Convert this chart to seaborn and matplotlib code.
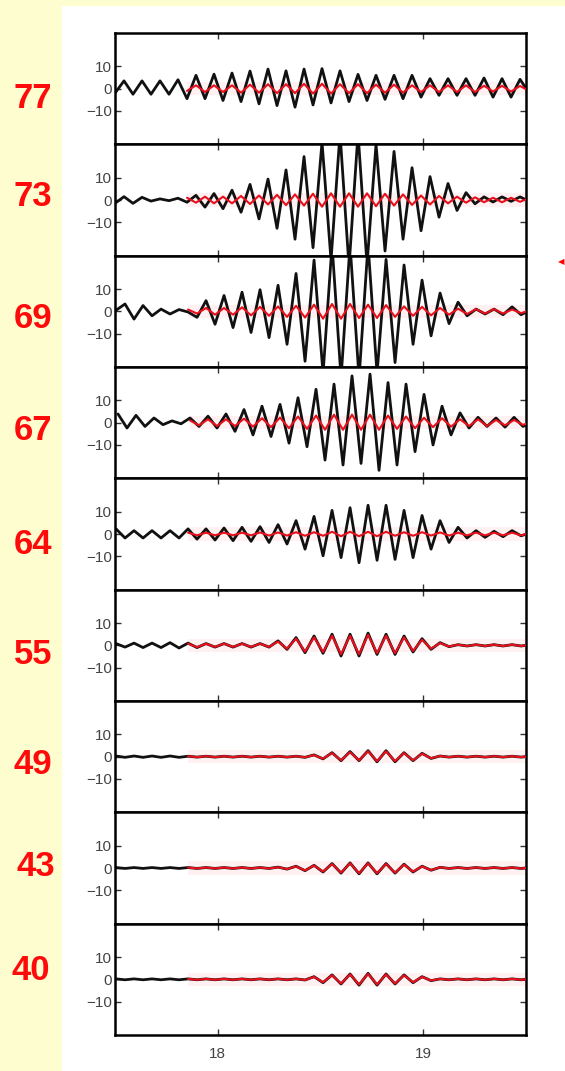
import numpy as np
import matplotlib
matplotlib.use("Agg")
import matplotlib.pyplot as plt
from matplotlib.patches import Rectangle
import seaborn as sns

# ---------------- data ----------------
LABELS = ['77', '73', '69', '67', '64', '55', '49', '43', '40']
# time of first extremum of each trace and the half period of the oscillation
START = {'77': 17.5, '73': 17.5, '69': 17.505, '67': 17.5146, '64': 17.505,
         '55': 17.505, '49': 17.505, '43': 17.505, '40': 17.505}
HALF_PERIOD = 0.0438
RED_FIRST = 8          # red trace starts at the 9th extremum

# successive extrema (peaks / troughs) of the black trace
BLACK = {
    '77': [-2, 3.5, -2.5, 3.5, -2.5, 3.5, -2.5, 4, -4.5, 6, -4.5, 6.5, -5.3, 7, -5.8, 7.9,
           -6.8, 8.8, -7.6, 8, -8.3, 8.8, -7.3, 9, -6.4, 8, -5.8, 6.4, -5.3, 6, -4.8, 6,
           -4.5, 6, -3.8, 4.5, -3, 4.5, -3, 4.5, -3, 4.8, -3.8, 4.5, -3.8, 4.2, -2],
    '73': [-1.5, 1.5, -1.5, 1.2, -0.5, 0.5, -0.3, 0.8, -1.0, 2.1, -3.2, 2.9, -3.9, 4.4, -5.5, 7,
           -8.5, 9.4, -12.7, 13.5, -17.6, 19.5, -21.4, 26, -27, 30, -30, 30, -29, 25, -22.9, 21.8,
           -17.6, 14.5, -13.8, 10.5, -7.7, 7.4, -4.7, 3.3, -1.7, 1.4, -0.9, 1.4, -0.6, 1.4, -0.6],
    '69': [0.5, 3.3, -3.5, 2.6, -2, 1, -1.2, 0.8, -0.3, -2.7, 4.8, -5.8, 7.1, -7.3, 8.6, -9.5,
           9.7, -11.8, 11.7, -14.8, 17, -22.4, 23, -28, 30, -30, 30, -30, 30, -28, 23.3, -23,
           20.8, -14.8, 14, -11, 8.2, -5.5, 4.1, -2, 1, -1.2, 1, -1.5, 2, -1.5, 0.5],
    '67': [3.9, -2.4, 3.3, -1.7, 2.1, -0.9, 0.8, -0.5, 2.1, -1.7, 2.9, -2.4, 3.9, -3.9, 5.9, -5.5,
           7.4, -6.2, 8.2, -9.2, 11.2, -10.8, 15, -16.8, 17.3, -19, 21, -18.3, 21.8, -21.4, 18, -19,
           17.3, -13, 12.7, -10, 7.4, -5.5, 4.4, -2.4, 2.4, -1.7, 2.1, -2, 2.4, -1.7, 0.5],
    '64': [2.3, -1.8, 1.5, -1.8, 1.5, -1.8, 1.5, -1.8, 2.3, -2.3, 2.3, -2.7, 2.7, -3, 3, -3.3,
           3.3, -3.8, 4.2, -4.5, 6, -6.8, 7.9, -9.8, 10.6, -10.6, 11.8, -12.9, 12.9, -11.8, 12.9, -11.4,
           10.6, -10.6, 8.3, -6.8, 6, -3.8, 3, -1.8, 1.5, -1.5, 1.2, -1.2, 1.5, -0.8, 0.5],
    '55': [0.8, -0.8, 1, -1, 1, -1, 1.2, -1.2, 1, -1, 0.8, -0.8, 0.8, -0.8, 0.8, -0.8,
           0.8, -0.8, 2, -1.8, 3.5, -3.3, 4.2, -3.6, 5, -4.8, 5, -4.8, 5.5, -4.1, 5, -4.1,
           4.2, -3, 3, -1.8, 1.2, -0.6, 0.3, -0.3, 0.3, -0.3, 0.3, -0.3, 0.3, -0.3, 0.3],
    '49': [0.3, -0.3, 0.3, -0.3, 0.3, -0.3, 0.3, -0.3, 0.2, -0.2, 0.2, -0.2, 0.2, -0.2, 0.2, -0.2,
           0.2, -0.2, 0.2, -0.2, 0.2, -0.3, 0.8, -1, 1.8, -1.8, 2.3, -1.8, 2.7, -2.3, 2.7, -2.3,
           1.8, -1.8, 1.5, -0.8, 0.3, -0.2, 0.2, -0.2, 0.2, -0.2, 0.2, -0.2, 0.2, -0.2, 0.2],
    '43': [0.2, -0.2, 0.2, -0.2, 0.2, -0.2, 0.2, -0.2, 0.2, -0.2, 0.2, -0.2, 0.2, -0.2, 0.2, -0.2,
           0.2, -0.2, 0.4, -0.5, 0.8, -1.2, 1.2, -1.8, 2, -2.3, 2.3, -2.6, 2.3, -2.6, 2, -2.3,
           1.7, -1.8, 0.8, -1.0, 0.3, -0.2, 0.2, -0.2, 0.2, -0.2, 0.2, -0.2, 0.2, -0.2, 0.2],
    '40': [0.2, -0.2, 0.2, -0.2, 0.2, -0.2, 0.2, -0.2, 0.2, -0.2, 0.2, -0.2, 0.2, -0.2, 0.2, -0.2,
           0.2, -0.2, 0.2, -0.2, 0.2, -0.3, 1.2, -1.5, 2, -2.1, 2.4, -2.6, 2.7, -2.6, 2.4, -2.1,
           2, -1.5, 1.2, -0.6, 0.2, -0.2, 0.2, -0.2, 0.2, -0.2, 0.2, -0.2, 0.2, -0.2, 0.2],
}

# successive extrema of the red trace (from RED_FIRST on)
RED = {
    '77': [-1.0, 1.5, -1.5, 1.5, -1.5, 1.5, -1.8, 1.8, -1.8, 2, -2, 2, -2, 2.2, -2.2, 2.2,
           -2.2, 2, -2, 2, -2, 1.8, -1.8, 1.8, -1.8, 1.5, -1.5, 1.5, -1.5, 1.5, -1.5, 1.5,
           -1.5, 1.3, -1.3, 1.3, -1.3, 1.2, -1.0],
    '73': [1.0, -1.2, 1.5, -1.5, 1.5, -1.5, 1.8, -1.8, 2, -2, 2.3, -2.3, 2.5, -2.5, 2.8, -3,
           3, -3, 3, -3, 3, -2.8, 2.8, -2.5, 2.5, -2.2, 2, -2, 1.8, -1.5, 1.5, -1.2,
           1.2, -1, 1, -1, 1, -0.8, 0.8],
    '69': [0.8, -1.0, 1.5, -1.5, 1.5, -1.5, 1.8, -1.8, 2, -2, 2.2, -2.5, 2.5, -2.8, 3, -3.3,
           3.3, -3.3, 3.3, -3, 3, -3, 2.8, -2.5, 2.2, -2, 2, -1.8, 1.5, -1.5, 1.2, -1.2,
           1, -1, 1, -1, 0.8, -0.8, 0.5],
    '67': [1.0, -1.2, 1.5, -1.5, 1.5, -1.5, 1.8, -1.8, 2, -2, 2.3, -2.5, 2.8, -2.8, 3.2, -3.2,
           3.6, -3.2, 3.6, -3.2, 3.6, -3.2, 3.2, -2.8, 2.8, -2.5, 2.2, -2, 2, -1.8, 1.5, -1.5,
           1.5, -1.5, 1.2, -1.2, 1.2, -1, 0.5],
    '64': [0.6, -0.6, 0.6, -0.6, 0.6, -0.6, 0.6, -0.6, 0.7, -0.7, 0.7, -0.7, 0.8, -0.8, 0.8, -0.8,
           1, -1, 1, -1, 1, -1, 1, -0.8, 0.8, -0.8, 0.8, -0.7, 0.7, -0.7, 0.6, -0.6,
           0.6, -0.6, 0.6, -0.6, 0.6, -0.6, 0.4],
    '55': [0.8, -0.8, 0.7, -0.7, 0.7, -0.7, 0.7, -0.7, 0.7, -0.7, 1.7, -1.5, 3, -2.8, 3.6, -3,
           4.3, -4, 4.3, -4, 4.7, -3.5, 4.3, -3.5, 3.6, -2.5, 2.5, -1.5, 1, -0.5, 0.3, -0.3,
           0.3, -0.3, 0.3, -0.3, 0.3, -0.3, 0.3],
    '49': [0.2, -0.2, 0.2, -0.2, 0.2, -0.2, 0.2, -0.2, 0.2, -0.2, 0.2, -0.2, 0.2, -0.3, 0.7, -0.9,
           1.6, -1.6, 2, -1.6, 2.4, -2, 2.4, -2, 1.6, -1.6, 1.3, -0.7, 0.3, -0.2, 0.2, -0.2,
           0.2, -0.2, 0.2, -0.2, 0.2, -0.2, 0.2],
    '43': [0.2, -0.2, 0.2, -0.2, 0.2, -0.2, 0.2, -0.2, 0.2, -0.2, 0.35, -0.45, 0.7, -1.1, 1.1, -1.6,
           1.8, -2.1, 2.1, -2.3, 2.1, -2.3, 1.8, -2.1, 1.5, -1.6, 0.7, -0.9, 0.3, -0.2, 0.2, -0.2,
           0.2, -0.2, 0.2, -0.2, 0.2, -0.2, 0.2],
    '40': [0.2, -0.2, 0.2, -0.2, 0.2, -0.2, 0.2, -0.2, 0.2, -0.2, 0.2, -0.2, 0.2, -0.3, 1.1, -1.3,
           1.8, -1.9, 2.2, -2.3, 2.4, -2.3, 2.2, -1.9, 1.8, -1.3, 1.1, -0.5, 0.2, -0.2, 0.2, -0.2,
           0.2, -0.2, 0.2, -0.2, 0.2, -0.2, 0.2],
}
BAND = 3.0                       # half-width of the pale band around the red trace
XLIM = (17.5, 19.5)
YLIM = (-25, 25)
XTICKS = [18, 19]
XTICKLABELS = ['18', '19']
YTICKS = [-10, 0, 10]
YTICKLABELS = ['\u221210', '0', '10']
# label positions (pixels from top-left)
LABEL_POS = {'77': (33, 98), '73': (33, 197), '69': (33, 318), '67': (33, 430), '64': (33, 545),
             '55': (33, 655), '49': (33, 765), '43': (36, 867), '40': (31, 970)}

# ---------------- figure ----------------
sns.set_theme(style='ticks')
plt.rcParams['font.family'] = ['Liberation Sans', 'DejaVu Sans']

W, H = 565, 1071
fig = plt.figure(figsize=(W / 100, H / 100), dpi=100)
fig.patch.set_facecolor('#fdfdd0')
fig.add_artist(Rectangle((62 / W, 0), (W - 62) / W, (H - 6) / H, transform=fig.transFigure,
                         facecolor='white', edgecolor='none', zorder=0))

axes = fig.subplots(len(LABELS), 1, sharex=True,
                    gridspec_kw=dict(left=115 / W, right=526 / W, top=1 - 33 / H,
                                     bottom=1 - 1035 / H, hspace=0))

for ax, lab in zip(axes, LABELS):
    b = np.array(BLACK[lab], dtype=float)
    tb = START[lab] + HALF_PERIOD * np.arange(len(b))
    r = np.array(RED[lab], dtype=float)
    tr = START[lab] + HALF_PERIOD * (RED_FIRST + np.arange(len(r)))

    ax.set_facecolor('white')
    ax.fill_between(tr, -BAND, BAND, color='#fff1f1', lw=0, zorder=1)
    sns.lineplot(x=tb, y=b, ax=ax, color='#111111', lw=2.0, sort=False, estimator=None,
                 solid_joinstyle='round', solid_capstyle='round', zorder=2)
    sns.lineplot(x=tr, y=r, ax=ax, color='#e8101c', lw=1.5, sort=False, estimator=None,
                 solid_joinstyle='round', zorder=3)

    ax.set_xlim(*XLIM)
    ax.set_ylim(*YLIM)
    ax.set_yticks(YTICKS)
    ax.set_yticklabels(YTICKLABELS)
    ax.set_xticks(XTICKS)
    ax.set_xticklabels(XTICKLABELS)
    ax.set_xlabel('')
    ax.set_ylabel('')
    ax.tick_params(direction='in', length=4, width=1, top=True, right=True,
                   labelsize=11, labelcolor='#444444', color='#333333', pad=2)
    for s in ax.spines.values():
        s.set_linewidth(1.8)
        s.set_color('black')

    x, y = LABEL_POS[lab]
    fig.text(x / W, 1 - y / H, lab, color='#ff0a0a', fontsize=25, fontweight='bold',
             ha='center', va='center')

axes[-1].tick_params(axis='x', labelbottom=True, pad=9)
for ax in axes[:-1]:
    ax.tick_params(axis='x', labelbottom=False)

fig.text(561 / W, 1 - 263 / H, '\u25C0', color='red', fontsize=6, ha='center', va='center')

fig.savefig('out.png', dpi=100, facecolor=fig.get_facecolor())
